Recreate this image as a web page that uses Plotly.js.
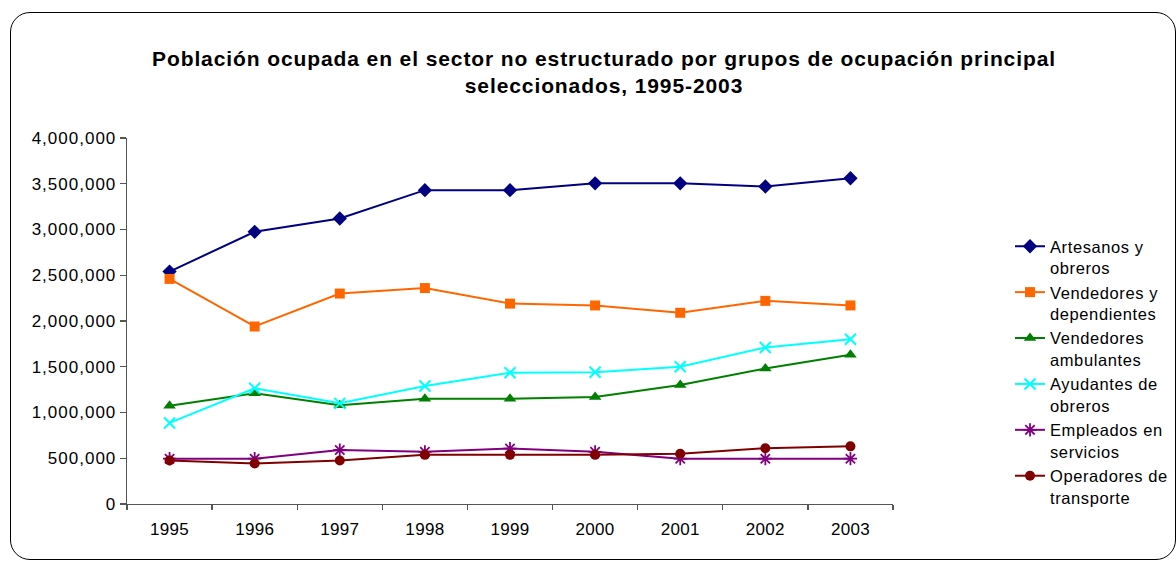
<!DOCTYPE html>
<html>
<head>
<meta charset="utf-8">
<script src="https://cdn.plot.ly/plotly-3.0.1.min.js"></script>
<style>
  html, body { margin: 0; padding: 0; background: #fff; }
  #wrap { position: relative; width: 1176px; height: 563px; overflow: hidden; }
  #chart { position: absolute; left: 0; top: 0; width: 1176px; height: 563px; }
  #frame { position: absolute; left: 10px; top: 12px; width: 1166px; height: 548px;
           border: 1.3px solid #000; border-radius: 20px; pointer-events: none; box-sizing: border-box; }
  .gtitle { letter-spacing: 0.9px; }
  .xtick text { letter-spacing: 0.3px; }
  .ytick text { letter-spacing: 1px; }
  .legendtext { letter-spacing: 0.6px; }
</style>
</head>
<body>
<div id="wrap">
  <div id="chart"></div>
  <div id="frame"></div>
</div>
<script>
const years = ['1995', '1996', '1997', '1998', '1999', '2000', '2001', '2002', '2003'];

const seriesNames = [
  'Artesanos y<br>obreros',
  'Vendedores y<br>dependientes',
  'Vendedores<br>ambulantes',
  'Ayudantes de<br>obreros',
  'Empleados en<br>servicios',
  'Operadores de<br>transporte'
];

const artesanos    = [2540000, 2975000, 3120000, 3430000, 3430000, 3505000, 3505000, 3470000, 3560000];
const vendedores   = [2460000, 1940000, 2300000, 2360000, 2190000, 2170000, 2090000, 2220000, 2170000];
const ambulantes   = [1075000, 1210000, 1080000, 1150000, 1150000, 1170000, 1300000, 1480000, 1630000];
const ayudantes    = [ 886000, 1265000, 1100000, 1290000, 1435000, 1440000, 1500000, 1710000, 1800000];
const empleados    = [ 495000,  495000,  590000,  570000,  606000,  570000,  495000,  495000,  495000];
const operadores   = [ 475000,  442000,  475000,  537000,  537000,  537000,  550000,  610000,  630000];

const yTickVals = [0, 500000, 1000000, 1500000, 2000000, 2500000, 3000000, 3500000, 4000000];
const yTickText = ['0', '500,000', '1,000,000', '1,500,000', '2,000,000', '2,500,000', '3,000,000', '3,500,000', '4,000,000'];

const styles = [
  { color: '#000080', symbol: 'diamond', size: 11, lw: 0 },
  { color: '#FF6600', symbol: 'square', size: 10, lw: 0 },
  { color: '#008000', symbol: 'triangle-up', size: 11, lw: 0 },
  { color: '#00FFFF', symbol: 'x-thin-open', size: 11, lw: 2 },
  { color: '#800080', symbol: 'asterisk-open', size: 11, lw: 1.8 },
  { color: '#800000', symbol: 'circle', size: 10, lw: 0 }
];

const values = [artesanos, vendedores, ambulantes, ayudantes, empleados, operadores];

const traces = values.map((v, i) => ({
  type: 'scatter',
  mode: 'lines+markers',
  x: years,
  y: v,
  name: seriesNames[i],
  line: { color: styles[i].color, width: 2 },
  marker: {
    color: styles[i].color,
    symbol: styles[i].symbol,
    size: styles[i].size,
    line: { color: styles[i].color, width: styles[i].lw }
  }
}));

const fontFam = '"Liberation Sans", Arial, sans-serif';

const layout = {
  width: 1176,
  height: 563,
  paper_bgcolor: '#ffffff',
  plot_bgcolor: '#ffffff',
  margin: { l: 126.5, r: 282.5, t: 138, b: 58.5, pad: 0 },
  font: { family: fontFam, color: '#000', size: 17 },
  title: {
    text: '<b>Población ocupada en el sector no estructurado por grupos de ocupación principal<br>seleccionados, 1995-2003</b>',
    font: { family: fontFam, size: 21, color: '#000' },
    x: 604 / 1176,
    xanchor: 'center',
    xref: 'container',
    y: 1 - 66 / 563,
    yanchor: 'top',
    yref: 'container'
  },
  xaxis: {
    type: 'category',
    range: [-0.5, 8.5],
    showline: true,
    linecolor: '#555',
    linewidth: 1.3,
    showgrid: false,
    zeroline: false,
    ticks: 'outside',
    tickson: 'boundaries',
    ticklen: 5,
    tickcolor: '#555',
    tickwidth: 1.3,
    ticklabelstandoff: 9,
    tickfont: { family: fontFam, size: 17, color: '#000' },
    fixedrange: true
  },
  yaxis: {
    range: [0, 4000000],
    tickvals: yTickVals,
    ticktext: yTickText,
    showline: true,
    linecolor: '#555',
    linewidth: 1.3,
    showgrid: false,
    zeroline: false,
    ticks: 'outside',
    ticklen: 6,
    tickcolor: '#555',
    tickwidth: 1.3,
    tickfont: { family: fontFam, size: 17, color: '#000' },
    fixedrange: true
  },
  showlegend: true,
  legend: {
    xref: 'container',
    yref: 'container',
    x: 1010 / 1176,
    y: 1 - 229 / 563,
    xanchor: 'left',
    yanchor: 'top',
    valign: 'top',
    bgcolor: 'rgba(0,0,0,0)',
    borderwidth: 0,
    font: { family: fontFam, size: 16.5, color: '#000' },
    tracegroupgap: 0
  }
};

Plotly.newPlot('chart', traces, layout, { staticPlot: true, displayModeBar: false });
</script>
</body>
</html>
